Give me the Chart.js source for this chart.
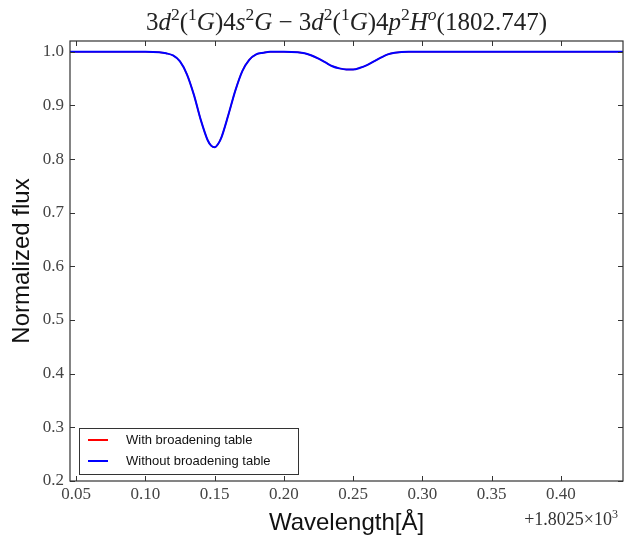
<!DOCTYPE html>
<html>
<head>
<meta charset="utf-8">
<script src="https://cdn.jsdelivr.net/npm/chart.js@4/dist/chart.umd.min.js"></script>
<style>
  body { margin: 0; background: #fff; }
  #wrap { width: 627px; height: 538px; }
</style>
</head>
<body>
<div id="wrap"><canvas id="myChart" width="627" height="538"></canvas></div>
<script>
// wavelength offsets (add 1802.5 A)
var wavelength = [0.0456, 0.08, 0.10, 0.11, 0.115, 0.12, 0.125, 0.13, 0.135, 0.14, 0.145, 0.1475, 0.15,
    0.1525, 0.155, 0.16, 0.165, 0.17, 0.175, 0.18, 0.185, 0.19, 0.20, 0.21, 0.215, 0.22, 0.225, 0.23,
    0.235, 0.24, 0.245, 0.25, 0.255, 0.26, 0.265, 0.27, 0.275, 0.28, 0.29, 0.32, 0.40, 0.4448];
var fluxWith = [1.0, 1.0, 1.0, 0.999, 0.997, 0.993, 0.982, 0.958, 0.920, 0.873, 0.835, 0.825, 0.822,
    0.828, 0.841, 0.883, 0.928, 0.964, 0.985, 0.995, 0.998, 1.0, 1.0, 0.999, 0.997, 0.993, 0.987, 0.980,
    0.973, 0.969, 0.967, 0.967, 0.970, 0.975, 0.982, 0.989, 0.995, 0.998, 1.0, 1.0, 1.0, 1.0];
var fluxWithout = [1.0, 1.0, 1.0, 0.999, 0.997, 0.993, 0.982, 0.958, 0.920, 0.873, 0.835, 0.825, 0.822,
    0.828, 0.841, 0.883, 0.928, 0.964, 0.985, 0.995, 0.998, 1.0, 1.0, 0.999, 0.997, 0.993, 0.987, 0.980,
    0.973, 0.969, 0.967, 0.967, 0.970, 0.975, 0.982, 0.989, 0.995, 0.998, 1.0, 1.0, 1.0, 1.0];

var seriesLabels = ['With broadening table', 'Without broadening table'];
var xTicks = [0.05, 0.10, 0.15, 0.20, 0.25, 0.30, 0.35, 0.40];
var yTicks = [0.2, 0.3, 0.4, 0.5, 0.6, 0.7, 0.8, 0.9, 1.0];
var xMin = 0.0456, xMax = 0.4448;
var yMin = 0.2, yMax = 1.02;
var offsetText = '+1.8025\u00d710';
var offsetExp = '3';

// title pieces: i = italic, sup = superscript
var titleParts = [
    {t: '3'}, {t: 'd', i: true}, {t: '2', sup: true}, {t: '('}, {t: '1', sup: true}, {t: 'G', i: true},
    {t: ')4'}, {t: 's', i: true}, {t: '2', sup: true}, {t: 'G', i: true}, {t: ' \u2212 3'},
    {t: 'd', i: true}, {t: '2', sup: true}, {t: '('}, {t: '1', sup: true}, {t: 'G', i: true},
    {t: ')4'}, {t: 'p', i: true}, {t: '2', sup: true}, {t: 'H', i: true}, {t: 'o', i: true, sup: true},
    {t: '(1802.747)'}
];

function toXY(xs, ys) {
    return xs.map(function (x, k) { return {x: x, y: ys[k]}; });
}

var serif = '"Liberation Serif", "DejaVu Serif", serif';
var sans = '"Liberation Sans", Arial, sans-serif';

var decor = {
    id: 'decor',
    afterDraw: function (chart) {
        var ctx = chart.ctx, a = chart.chartArea;
        var xs = chart.scales.x, ys = chart.scales.y;
        ctx.save();
        // frame
        ctx.strokeStyle = '#333';
        ctx.lineWidth = 1.2;
        ctx.strokeRect(a.left, a.top, a.right - a.left, a.bottom - a.top);
        // inward ticks on all sides
        ctx.lineWidth = 1;
        ctx.beginPath();
        xTicks.forEach(function (v) {
            var px = Math.round(xs.getPixelForValue(v)) + 0.5;
            ctx.moveTo(px, a.bottom); ctx.lineTo(px, a.bottom - 5);
            ctx.moveTo(px, a.top); ctx.lineTo(px, a.top + 5);
        });
        yTicks.forEach(function (v) {
            var py = Math.round(ys.getPixelForValue(v)) + 0.5;
            ctx.moveTo(a.left, py); ctx.lineTo(a.left + 5, py);
            ctx.moveTo(a.right, py); ctx.lineTo(a.right - 5, py);
        });
        ctx.stroke();

        // title
        var size = 25;
        var widths = titleParts.map(function (p) {
            ctx.font = (p.i ? 'italic ' : '') + (p.sup ? size * 0.7 : size) + 'px ' + serif;
            return ctx.measureText(p.t).width;
        });
        var total = widths.reduce(function (s, w) { return s + w; }, 0);
        var cx = (a.left + a.right) / 2;
        var x = cx - total / 2, base = 30;
        ctx.fillStyle = '#222';
        ctx.textBaseline = 'alphabetic';
        ctx.textAlign = 'left';
        titleParts.forEach(function (p, k) {
            ctx.font = (p.i ? 'italic ' : '') + (p.sup ? size * 0.7 : size) + 'px ' + serif;
            ctx.fillText(p.t, x, p.sup ? base - 10 : base);
            x += widths[k];
        });

        // offset text bottom right
        var wExp;
        ctx.fillStyle = '#333';
        ctx.font = '12px ' + serif;
        wExp = ctx.measureText(offsetExp).width;
        ctx.fillText(offsetExp, 618 - wExp, 518);
        ctx.font = '18px ' + serif;
        ctx.textAlign = 'right';
        ctx.fillText(offsetText, 618 - wExp, 525);

        // legend box inside the plot, lower left
        var bx = 79, by = 428, bw = 219, bh = 46;
        ctx.fillStyle = '#fff';
        ctx.fillRect(bx, by, bw, bh);
        ctx.strokeStyle = '#333';
        ctx.lineWidth = 1;
        ctx.strokeRect(bx + 0.5, by + 0.5, bw, bh);
        ctx.font = '13px ' + sans;
        ctx.textAlign = 'left';
        ctx.textBaseline = 'middle';
        chart.data.datasets.forEach(function (ds, k) {
            var ly = by + 12 + k * 21;
            ctx.strokeStyle = ds.borderColor;
            ctx.lineWidth = 2;
            ctx.beginPath();
            ctx.moveTo(bx + 9, ly); ctx.lineTo(bx + 29, ly);
            ctx.stroke();
            ctx.fillStyle = '#111';
            ctx.fillText(ds.label, bx + 47, ly);
        });
        ctx.restore();
    }
};

var ctx = document.getElementById('myChart').getContext('2d');
var myChart = new Chart(ctx, {
    type: 'line',
    data: {
        datasets: [{
            label: seriesLabels[0],
            data: toXY(wavelength, fluxWith),
            borderColor: '#ff0000',
            borderWidth: 1.4,
            pointRadius: 0,
            cubicInterpolationMode: 'monotone',
            order: 2
        }, {
            label: seriesLabels[1],
            data: toXY(wavelength, fluxWithout),
            borderColor: '#0000ff',
            borderWidth: 2,
            pointRadius: 0,
            cubicInterpolationMode: 'monotone',
            order: 1
        }]
    },
    options: {
        responsive: false,
        animation: false,
        layout: {padding: {top: 41, right: 4, left: 0, bottom: 0}},
        plugins: {legend: {display: false}, title: {display: false}, tooltip: {enabled: false}},
        scales: {
            x: {
                type: 'linear',
                min: xMin,
                max: xMax,
                grid: {display: false, drawTicks: false},
                border: {display: false},
                afterBuildTicks: function (s) { s.ticks = xTicks.map(function (v) { return {value: v}; }); },
                afterFit: function (s) { s.height = 57; },
                ticks: {
                    padding: 3,
                    color: '#444',
                    font: {family: serif, size: 17},
                    maxRotation: 0,
                    callback: function (v) { return v.toFixed(2); }
                },
                title: {
                    display: true,
                    text: 'Wavelength[\u00c5]',
                    color: '#111',
                    font: {family: sans, size: 24},
                    padding: {top: 0, bottom: 0}
                }
            },
            y: {
                min: yMin,
                max: yMax,
                grid: {display: false, drawTicks: false},
                border: {display: false},
                afterBuildTicks: function (s) { s.ticks = yTicks.map(function (v) { return {value: v}; }); },
                afterFit: function (s) { s.width = 70; },
                ticks: {
                    padding: 6,
                    color: '#444',
                    font: {family: serif, size: 17},
                    callback: function (v) { return v.toFixed(1); }
                },
                title: {
                    display: true,
                    text: 'Normalized flux',
                    color: '#111',
                    font: {family: sans, size: 24},
                    padding: {top: 8, bottom: 0}
                }
            }
        }
    },
    plugins: [decor]
});
</script>
</body>
</html>
